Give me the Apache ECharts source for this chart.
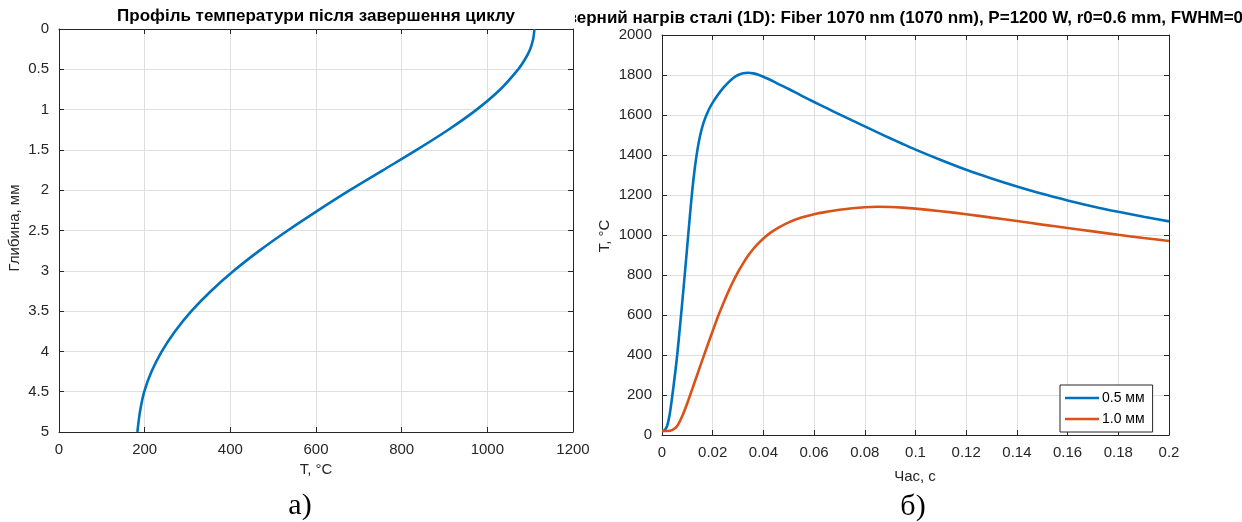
<!DOCTYPE html>
<html>
<head>
<meta charset="utf-8">
<script src="https://cdn.jsdelivr.net/npm/echarts@6/dist/echarts.min.js"></script>
<style>
html,body{margin:0;padding:0;background:#fff;}
#chart{width:1242px;height:522px;}
</style>
</head>
<body>
<div id="chart"></div>
<script>
// ---- Data (a): depth profile after cycle ----
const profileDepth = [0, 0.125, 0.25, 0.375, 0.5, 0.75, 1, 1.25, 1.5, 1.75, 2, 2.25, 2.5, 2.75, 3, 3.25, 3.5, 3.75, 4, 4.25, 4.5, 4.75, 5];
const profileTemp  = [1110, 1107, 1100, 1088, 1072, 1030, 975, 909, 835, 757, 679, 605, 534, 468, 408, 355, 309, 271, 240, 216, 199, 189, 183];

// ---- Data (б): surface temperature vs time ----
const timeA = [0, 0.001, 0.002, 0.003, 0.004, 0.005, 0.006, 0.007, 0.008, 0.009, 0.010, 0.011, 0.012, 0.013, 0.014, 0.015, 0.016, 0.017, 0.018, 0.019, 0.020, 0.022, 0.024, 0.026, 0.028, 0.030, 0.032, 0.034, 0.036, 0.038, 0.040, 0.045, 0.050, 0.055, 0.060, 0.065, 0.070, 0.075, 0.080, 0.085, 0.090, 0.095, 0.100, 0.11, 0.12, 0.13, 0.14, 0.15, 0.16, 0.17, 0.18, 0.19, 0.20];
const temp05 = [20, 24, 45, 100, 190, 290, 400, 530, 665, 805, 950, 1095, 1230, 1340, 1428, 1495, 1545, 1583, 1614, 1640, 1662, 1700, 1733, 1761, 1784, 1800, 1809, 1811, 1808, 1801, 1791, 1761, 1730, 1697, 1665, 1634, 1603, 1573, 1543, 1513, 1484, 1455, 1427, 1375, 1326, 1283, 1243, 1206, 1173, 1143, 1116, 1091, 1068];
const timeB = [0, 0.002, 0.004, 0.006, 0.008, 0.010, 0.012, 0.014, 0.016, 0.018, 0.020, 0.022, 0.024, 0.026, 0.028, 0.030, 0.032, 0.034, 0.036, 0.038, 0.040, 0.043, 0.046, 0.050, 0.055, 0.060, 0.065, 0.070, 0.075, 0.080, 0.085, 0.090, 0.095, 0.100, 0.11, 0.12, 0.13, 0.14, 0.15, 0.16, 0.17, 0.18, 0.19, 0.20];
const temp10 = [20, 20, 24, 45, 95, 160, 232, 305, 378, 450, 520, 590, 653, 712, 766, 815, 858, 897, 930, 958, 983, 1013, 1037, 1063, 1087, 1104, 1116, 1126, 1134, 1139, 1141, 1140, 1137, 1132, 1119, 1104, 1087, 1070, 1052, 1035, 1018, 1001, 985, 970];

const seriesNames = ['0.5 мм', '1.0 мм'];
const titleLeft = 'Профіль температури після завершення циклу';
const titleRightHidden = 'Лаз';
const titleRight = 'Лазерний нагрів сталі (1D): Fiber 1070 nm (1070 nm), P=1200 W, r0=0.6 mm, FWHM=0.5 mm';

const FONT = 'Liberation Sans';
const AX = '#262626';
const GRID = '#dfdfdf';
const TITLE_SIZE = 17;
const fmt = v => String(+(+v).toFixed(4));

// measure hidden prefix width so visible part starts where the reference shows it
const mctx = document.createElement('canvas').getContext('2d');
mctx.font = 'bold ' + TITLE_SIZE + 'px "' + FONT + '"';
const hiddenW = mctx.measureText(titleRightHidden).width;

function mainAxis(extra) {
  return Object.assign({
    type: 'value',
    axisLine: {show: true, onZero: false, lineStyle: {color: AX, width: 1}},
    axisTick: {show: true, inside: true, length: 5, lineStyle: {color: AX}},
    axisLabel: {show: true, color: AX, fontFamily: FONT, fontSize: 15, margin: 10, formatter: fmt},
    splitLine: {show: true, lineStyle: {color: GRID, width: 1}}
  }, extra);
}
function boxAxis(extra) {
  return Object.assign({
    type: 'value',
    axisLine: {show: true, onZero: false, lineStyle: {color: AX, width: 1}},
    axisTick: {show: true, inside: true, length: 5, lineStyle: {color: AX}},
    axisLabel: {show: false},
    splitLine: {show: false}
  }, extra);
}

const chart = echarts.init(document.getElementById('chart'), null, {renderer: 'canvas'});
chart.setOption({
  animation: false,
  backgroundColor: '#fff',
  grid: [
    {left: 59, top: 29, width: 514, height: 403},
    {left: 662, top: 35, width: 507, height: 400}
  ],
  xAxis: [
    mainAxis({gridIndex: 0, position: 'bottom', min: 0, max: 1200, interval: 200}),
    boxAxis({gridIndex: 0, position: 'top', min: 0, max: 1200, interval: 200}),
    mainAxis({gridIndex: 1, position: 'bottom', min: 0, max: 0.2, interval: 0.02}),
    boxAxis({gridIndex: 1, position: 'top', min: 0, max: 0.2, interval: 0.02})
  ],
  yAxis: [
    mainAxis({gridIndex: 0, position: 'left', inverse: true, min: 0, max: 5, interval: 0.5}),
    boxAxis({gridIndex: 0, position: 'right', inverse: true, min: 0, max: 5, interval: 0.5}),
    mainAxis({gridIndex: 1, position: 'left', min: 0, max: 2000, interval: 200}),
    boxAxis({gridIndex: 1, position: 'right', min: 0, max: 2000, interval: 200})
  ],
  legend: {
    orient: 'vertical',
    left: 1060, top: 385,
    data: seriesNames,
    icon: 'rect',
    backgroundColor: '#fff',
    borderColor: AX, borderWidth: 1, borderRadius: 0,
    padding: [6, 8, 6, 5],
    itemGap: 7, itemWidth: 34, itemHeight: 2.6,
    textStyle: {fontFamily: FONT, fontSize: 14, color: '#000', padding: [0, 0, 0, -2]}
  },
  series: [
    {
      type: 'line', xAxisIndex: 0, yAxisIndex: 0,
      data: profileDepth.map((d, i) => [profileTemp[i], d]),
      smooth: 0.3, symbol: 'none',
      lineStyle: {color: '#0072BD', width: 2.6}, z: 5
    },
    {
      name: seriesNames[0], type: 'line', xAxisIndex: 2, yAxisIndex: 2,
      data: timeA.map((t, i) => [t, temp05[i]]),
      smooth: 0.3, symbol: 'none',
      itemStyle: {color: '#0072BD'},
      lineStyle: {color: '#0072BD', width: 2.6}, z: 5
    },
    {
      name: seriesNames[1], type: 'line', xAxisIndex: 2, yAxisIndex: 2,
      data: timeB.map((t, i) => [t, temp10[i]]),
      smooth: 0.3, symbol: 'none',
      itemStyle: {color: '#D95319'},
      lineStyle: {color: '#D95319', width: 2.6}, z: 5
    }
  ],
  graphic: [
    {type: 'text', z: 10,
      style: {text: titleRight, x: 577 - hiddenW, y: 18, fontFamily: FONT, fontSize: TITLE_SIZE, fontWeight: 'bold', fill: '#000', textAlign: 'left', textVerticalAlign: 'middle'}},
    {type: 'rect', z: 11, shape: {x: 520, y: 0, width: 55, height: 28}, style: {fill: '#fff'}},
    {type: 'text', z: 12,
      style: {text: titleLeft, x: 316, y: 16, textAlign: 'center', textVerticalAlign: 'middle', fontFamily: FONT, fontSize: TITLE_SIZE, fontWeight: 'bold', fill: '#000'}},
    {type: 'text', z: 12, x: 15, y: 228, rotation: Math.PI / 2,
      style: {text: 'Глибина, мм', x: 0, y: 0, fontFamily: FONT, fontSize: 15, fill: AX, textAlign: 'center', textVerticalAlign: 'middle'}},
    {type: 'text', z: 12,
      style: {text: 'T, °C', x: 316, y: 470, fontFamily: FONT, fontSize: 15, fill: AX, textAlign: 'center', textVerticalAlign: 'middle'}},
    {type: 'text', z: 12, x: 605, y: 236, rotation: Math.PI / 2,
      style: {text: 'T, °C', x: 0, y: 0, fontFamily: FONT, fontSize: 15, fill: AX, textAlign: 'center', textVerticalAlign: 'middle'}},
    {type: 'text', z: 12,
      style: {text: 'Час, с', x: 915, y: 477, fontFamily: FONT, fontSize: 15, fill: AX, textAlign: 'center', textVerticalAlign: 'middle'}},
    {type: 'text', z: 12,
      style: {text: 'а)', x: 300, y: 506, fontFamily: 'Liberation Serif', fontSize: 30, fill: '#000', textAlign: 'center', textVerticalAlign: 'middle'}},
    {type: 'text', z: 12,
      style: {text: 'б)', x: 913, y: 507, fontFamily: 'Liberation Serif', fontSize: 30, fill: '#000', textAlign: 'center', textVerticalAlign: 'middle'}}
  ]
});
</script>
</body>
</html>
